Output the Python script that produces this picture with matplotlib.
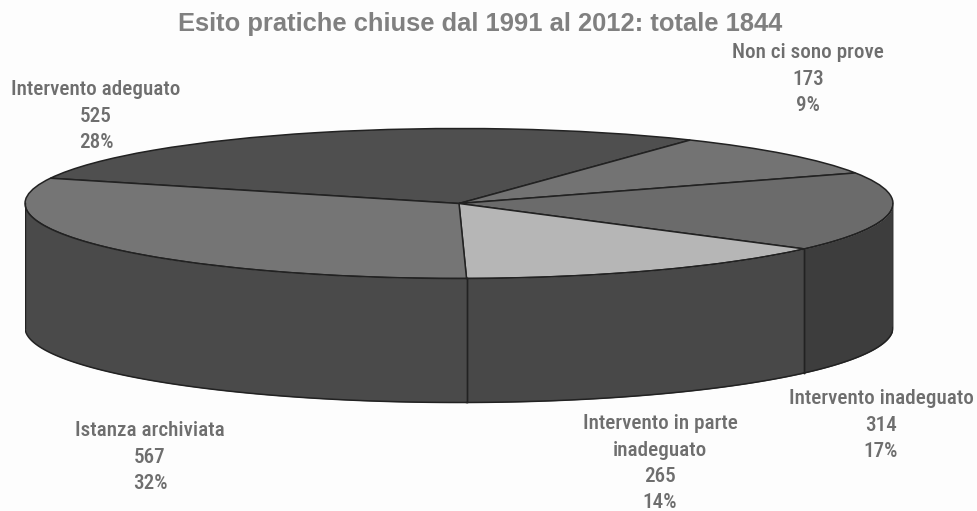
import numpy as np
import matplotlib
matplotlib.use('Agg')
import matplotlib.pyplot as plt

title = 'Esito pratiche chiuse dal 1991 al 2012: totale 1844'
categories = ['Intervento adeguato', 'Non ci sono prove', 'Intervento inadeguato',
              'Intervento in parte\ninadeguato', 'Istanza archiviata']
values = [525, 173, 314, 265, 567]
percents = [28, 9, 17, 14, 32]

top_colors = ['#4f4f4f', '#737373', '#6b6b6b', '#b6b6b6', '#757575']
side_colors = ['#4a4a4a', '#4a4a4a', '#3d3d3d', '#484848', '#4a4a4a']
label_pos = [(96, 89), (808, 52), (881, 398), (660, 423), (150, 430)]

W, H = 977, 511
cx_left, cx_right = 25, 893
cy, ry, depth = 203.5, 75, 124
start_angle = 160.3

bg = '#fdfdfd'
fig = plt.figure(figsize=(W / 100, H / 100), dpi=100, facecolor=bg)

# squashed axes, so the pie is in unit radius and comes out as an ellipse
top_px = cy - ry - 5
bot_px = cy + ry + depth + 5
ax = fig.add_axes([cx_left / W, 1 - bot_px / H, (cx_right - cx_left) / W, (bot_px - top_px) / H])
ax.pie(values, colors=top_colors, startangle=start_angle, counterclock=False, radius=1,
       wedgeprops=dict(edgecolor='#222222', linewidth=1.1))
ax.set_aspect('auto')
ax.set_xlim(-1, 1)
ax.set_ylim(-(ry + depth + 5) / ry, (ry + 5) / ry)
ax.axis('off')

# side wall, front half of the rim only
h = depth / ry
edges = start_angle - np.cumsum([0] + values) / sum(values) * 360
for i in range(len(values)):
    a0, a1 = edges[i], edges[i + 1]
    for shift in (0, 360):
        hi = min(a0 + shift, 0)
        lo = max(a1 + shift, -180)
        if hi <= lo:
            continue
        t = np.radians(np.linspace(hi, lo, 80))
        x = np.cos(t)
        y = np.sin(t)
        ax.fill_between(x, y, y - h, color=side_colors[i], lw=0, zorder=1)
        # front edges of the wall
        ax.plot(x, y, color='#222222', lw=1.1, zorder=3)
        ax.plot(x, y - h, color='#222222', lw=1.1, zorder=3)
        ax.plot([x[-1], x[-1]], [y[-1], y[-1] - h], color='#222222', lw=1, zorder=3)
        ax.plot([x[0], x[0]], [y[0], y[0] - h], color='#222222', lw=1, zorder=3)

fig.text(480 / W, 1 - 24 / H, title, ha='center', va='center', fontsize=18.4, fontweight='bold',
         color='#808080', family=['Liberation Sans', 'DejaVu Sans'])

for cat, val, pct, (px, py) in zip(categories, values, percents, label_pos):
    fig.text(px / W, 1 - (py - 9) / H, f'{cat}\n{val}\n{pct}%', ha='center', va='top',
             fontsize=15.2, fontweight='medium', color='#6e6e6e', linespacing=1.5,
             family=['Roboto Condensed', 'Liberation Sans'])

fig.savefig('out.png', dpi=100, facecolor=bg)
